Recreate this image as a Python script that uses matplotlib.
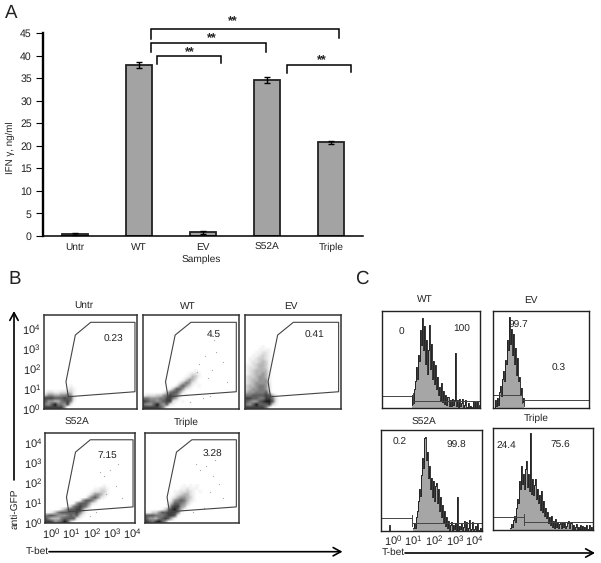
import numpy as np
import matplotlib
matplotlib.use('Agg')
import matplotlib.pyplot as plt

plt.rcParams['font.family'] = ['Liberation Sans', 'DejaVu Sans']
plt.rcParams['mathtext.fontset'] = 'custom'
plt.rcParams['mathtext.rm'] = 'Liberation Sans'
plt.rcParams['mathtext.default'] = 'regular'
plt.rcParams['text.hinting'] = 'no_hinting'

W, H = 601, 563

# panel A
samples = ['Untr', 'WT', 'EV', 'S52A', 'Triple']
ifn_values = [0.5, 37.9, 0.8, 34.6, 20.8]
ifn_errors = [0.2, 0.65, 0.3, 0.65, 0.3]
ifn_ticks = [0, 5, 10, 15, 20, 25, 30, 35, 40, 45]

# panel B, dot density, top row first, 0 white to 9 black
untr_density = [
    "00000000100",
    "00000001210",
    "12211223310",
    "35544556510",
    "88877787720",
    "75544678610",
    "65796658200",
    "88888850000",
]
wt_density = [
    "0000000000000000100",
    "0000000000000012210",
    "0000000000000124310",
    "0000000000001354200",
    "0000000000024652100",
    "0000000000257531010",
    "0000000014775210000",
    "0000001367752000000",
    "1222335687630100000",
    "6655566886410000000",
    "8766567882101000000",
    "6557965721000000000",
    "8888875100000000000",
]
ev_density = [
    "00000100000",
    "00001111000",
    "00011221000",
    "00112321000",
    "01123321000",
    "01223431000",
    "11234431000",
    "12234431000",
    "12344441000",
    "12344541000",
    "23345541000",
    "23445551000",
    "23455552000",
    "34456652000",
    "34556652000",
    "45566673000",
    "66777787410",
    "88776688620",
    "76557899720",
    "65797778310",
    "88888862000",
]
s52a_density = [
    "0000000000000000000100",
    "0000000000000000112210",
    "0000000000000001223310",
    "0000000000000013554210",
    "0000000000000146752100",
    "0000000000015776410000",
    "0000000001577752100000",
    "0000000136787630000000",
    "0000024677885100000000",
    "1124677777863100000000",
    "6776555676731000000000",
    "7544467777210000000000",
    "8875679731000000000000",
]
triple_density = [
    "00000000000010101000",
    "00000000000112111000",
    "00000000011223210100",
    "00000000012344210000",
    "00000000124554310000",
    "00000000256764210000",
    "00000001477653100000",
    "00000002788541000000",
    "00000136897410000000",
    "11335778886100000000",
    "77766678871000000000",
    "75546787410000000000",
    "87689751000000000000",
]
# faint single events outside the dense part, in decades
wt_dots_x = [2.3, 2.6, 2.9, 3.1, 2.7, 3.4, 2.2, 3.0, 2.5, 3.6, 1.9, 2.8]
wt_dots_y = [2.2, 2.6, 1.9, 2.8, 1.5, 2.3, 1.8, 3.4, 0.5, 1.3, 0.3, 0.6]
s52a_dots_x = [2.6, 2.9, 3.2, 2.4, 3.0, 2.7, 3.5, 2.2, 1.9, 3.3]
s52a_dots_y = [2.3, 2.6, 1.8, 2.5, 3.3, 1.4, 1.2, 0.5, 0.3, 2.9]
triple_dots_x = [2.3, 2.6, 2.9, 3.2, 2.1, 2.8, 3.4, 2.5, 2.0, 3.0]
triple_dots_y = [2.6, 2.8, 2.3, 1.9, 2.9, 1.5, 1.2, 0.7, 0.5, 3.1]
decade_ticks = [0, 1, 2, 3, 4]
gate_x = [0.263, 0.238, 0.338, 0.502, 0.975, 0.975, 0.263]
gate_y = [0.128, 0.288, 0.786, 0.922, 0.922, 0.181, 0.128]

# panel C, counts in % of the panel height, one value per channel
wt_start = 412
wt_counts = [3, 14, 5, 20, 28, 42, 30, 55, 48, 80, 65, 93, 60, 84, 45, 70, 35, 60, 85, 40,
             66, 30, 48, 25, 44, 20, 32, 14, 22, 8, 26, 6, 18, 4, 14, 3, 12, 2, 9, 2,
             10, 3, 8, 57, 2, 8, 0, 10, 2, 5, 10, 0, 3, 9, 0, 1, 5, 0, 2, 1,
             0, 7, 0, 6, 0, 7, 0, 3]
ev_start = 494
ev_counts = [0, 8, 2, 10, 3, 16, 22, 12, 30, 38, 28, 50, 45, 70, 60, 94, 66, 82, 55, 76,
             45, 62, 34, 52, 28, 32, 14, 20, 6, 10, 2]
s52a_start = 413
s52a_counts = [3, 8, 3, 14, 20, 30, 42, 35, 55, 72, 62, 92, 93, 70, 78, 52, 64, 42, 52, 34,
               50, 30, 45, 48, 28, 42, 20, 34, 14, 26, 8, 20, 5, 14, 3, 10, 1, 6, 9, 1,
               6, 2, 8, 1, 34, 1, 5, 2, 8, 0, 4, 10, 1, 9, 0, 3, 11, 0, 2, 9,
               0, 2, 5, 1, 7, 0, 1, 3, 0]
s52a_low_channels = [388, 389, 390]
s52a_low_counts = [0, 6, 0]
triple_start = 510
triple_counts = [2, 6, 3, 10, 14, 8, 22, 30, 26, 48, 40, 63, 45, 55, 40, 60, 68, 42, 55, 38,
                 95, 35, 50, 34, 44, 50, 30, 40, 26, 34, 20, 38, 18, 28, 14, 22, 12, 18, 7, 13,
                 5, 14, 3, 9, 2, 11, 3, 8, 2, 6, 7, 2, 8, 3, 7, 2, 4, 7, 9, 2,
                 7, 8, 1, 5, 1, 3, 6, 0, 3, 1, 5, 0, 4, 0, 3, 0, 5, 0, 1, 5,
                 0, 3, 0]
channel_ticks = [393, 413, 434, 455, 474]


def px_axes(fig, left, top, right, bottom):
    return fig.add_axes([left / W, 1 - bottom / H, (right - left) / W, (bottom - top) / H])


def decade_labels(values):
    return ['$10^{%d}$' % v for v in values]


def dot_panel(fig, rect, density, ylim, dots=None, show_x=False, show_y=False):
    ax = px_axes(fig, *rect)
    grid = np.array([[int(c) for c in row] for row in density])
    x0, y0 = -0.29, ylim[0]
    ax.imshow(grid, cmap='Greys', vmin=0, vmax=10, aspect='auto', interpolation='bilinear',
              extent=(x0, x0 + grid.shape[1] * 0.147, y0, y0 + grid.shape[0] * 0.15))
    if dots:
        ax.plot(dots[0], dots[1], ls='', marker='s', ms=0.8, mew=0, color='#aaaaaa')
    ax.plot(gate_x, gate_y, color='#444444', lw=0.8, transform=ax.transAxes)
    ax.set_xlim(x0, 4.13)
    ax.set_ylim(ylim)
    ax.set_xticks(decade_ticks if show_x else [])
    ax.set_yticks(decade_ticks if show_y else [])
    if show_x:
        ax.set_xticklabels(decade_labels(decade_ticks))
    if show_y:
        ax.set_yticklabels(decade_labels(decade_ticks))
    ax.tick_params(length=0, labelsize=8, pad=2, colors='#222222')
    for s in ax.spines.values():
        s.set_linewidth(1.1)
        s.set_color('#333333')
    return ax


def hist_panel(fig, rect, start, counts, split, left_y, right_y, show_x=False):
    ax = px_axes(fig, *rect)
    channels = start + np.arange(len(counts))
    ax.fill_between(channels, counts, step='mid', color='#a6a6a6', lw=0)
    ax.step(channels, counts, where='mid', color='black', lw=0.55)
    ax.set_xlim(rect[0], rect[2])
    ax.set_ylim(0, 100)
    # marker bars for the two gates
    tr = ax.transAxes
    ax.plot([0, split], [left_y, left_y], color='#444444', lw=0.7, transform=tr)
    ax.plot([split, 1], [right_y, right_y], color='#444444', lw=0.7, transform=tr)
    ax.plot([split, split], [left_y - 0.03, left_y + 0.03], color='#444444', lw=0.7, transform=tr)
    ax.plot([split, split], [right_y - 0.03, right_y + 0.03], color='#444444', lw=0.7, transform=tr)
    ax.set_yticks([])
    if show_x:
        ax.set_xticks(channel_ticks)
        ax.set_xticklabels(decade_labels(decade_ticks))
    else:
        ax.set_xticks([])
    ax.tick_params(length=0, labelsize=8, pad=2, colors='#222222')
    for s in ax.spines.values():
        s.set_linewidth(1.0)
        s.set_color('#222222')
    return ax


fig = plt.figure(figsize=(W / 100, H / 100), dpi=100)

# A
ax = px_axes(fig, 43, 33, 363, 236)
ax.bar(range(len(samples)), ifn_values, width=0.406, color='#a3a3a3', edgecolor='#222222', lw=1.3,
       yerr=ifn_errors, error_kw=dict(ecolor='black', elinewidth=1.0, capsize=2.2, capthick=1.0))
ax.set_xlim(-0.5, 4.5)
ax.set_ylim(0, 45)
ax.set_yticks(ifn_ticks)
ax.set_xticks(range(len(samples)))
ax.set_xticklabels(samples)
ax.tick_params(axis='x', length=0, labelsize=7.3, pad=5, colors='#222222')
ax.tick_params(axis='y', length=5, width=0.8, labelsize=7.6, pad=3, labelcolor='#222222')
ax.spines['top'].set_visible(False)
ax.spines['right'].set_visible(False)
ax.spines['left'].set_linewidth(1.7)
ax.spines['bottom'].set_linewidth(1.1)

# B
dot_panel(fig, (43.7, 315, 137.3, 408.7), untr_density, (-0.03, 4.65), show_y=True)
dot_panel(fig, (142.7, 315, 238.7, 408.7), wt_density, (-0.03, 4.65), dots=(wt_dots_x, wt_dots_y))
dot_panel(fig, (245.3, 315, 341, 408.7), ev_density, (-0.03, 4.65))
dot_panel(fig, (45, 432.7, 135.3, 523.3), s52a_density, (-0.08, 4.45),
          dots=(s52a_dots_x, s52a_dots_y), show_x=True, show_y=True)
dot_panel(fig, (144.7, 432.7, 238.7, 523.3), triple_density, (-0.08, 4.45),
          dots=(triple_dots_x, triple_dots_y))

# C
hist_panel(fig, (382.3, 310.7, 480, 408.3), wt_start, wt_counts, 0.317, 0.126, 0.075)
hist_panel(fig, (493, 311.3, 589, 407.7), ev_start, ev_counts, 0.306, 0.131, 0.076)
ax_c = hist_panel(fig, (381.3, 430.3, 482, 530.7), s52a_start, s52a_counts, 0.308, 0.123, 0.076, show_x=True)
ax_c.step(s52a_low_channels, s52a_low_counts, where='mid', color='black', lw=0.55)
hist_panel(fig, (493, 428, 592.7, 530), triple_start, triple_counts, 0.314, 0.127, 0.078)

# overlay in pixels for letters, brackets, arrows
ov = fig.add_axes([0, 0, 1, 1], facecolor='none')
ov.set_xlim(0, W)
ov.set_ylim(H, 0)
ov.axis('off')


def label(x, y, s, size=7.3, **kw):
    ov.text(x, y, s, fontsize=size, ha='center', va='center', color='#222222', **kw)


for x, y, s in [(11, 13, 'A'), (14.5, 279, 'B'), (362, 279, 'C')]:
    label(x, y, s, size=13.5)

label(10, 148, 'IFN γ, ng/ml', size=7)
ov.texts[-1].set_rotation(90)
label(201.5, 259, 'Samples')

brackets = [(151, 339, 29, 38.5, 37.5), (150.5, 265.5, 42.5, 52, 52),
            (156.5, 220.5, 55.5, 63.5, 62.5), (286.5, 350.5, 64.5, 73, 72)]
for x1, x2, top, y1, y2 in brackets:
    ov.plot([x1, x1, x2, x2], [y1, top, top, y2], color='black', lw=1.1, solid_joinstyle='miter')
for x, y in [(232.5, 22), (212, 39), (190, 52.5), (321.5, 61)]:
    label(x, y, '**', size=9, fontweight='bold')

for x, y, s in [(83.7, 305, 'Untr'), (187.7, 306, 'WT'), (290.7, 306, 'EV'),
                (77, 422.3, 'S52A'), (186, 422.7, 'Triple'),
                (113.7, 339.3, '0.23'), (213.3, 334, '4.5'), (314.7, 335, '0.41'),
                (107, 455.3, '7.15'), (212.3, 454.7, '3.28'),
                (425.3, 299, 'WT'), (531, 300, 'EV'), (424, 422.7, 'S52A'), (536.7, 418, 'Triple'),
                (401.7, 332.3, '0'), (461.7, 329.7, '100'), (518.7, 325.7, '99.7'),
                (558.3, 368.7, '0.3'), (400, 442.7, '0.2'), (456, 445.3, '99.8'),
                (506, 445.7, '24.4'), (560.7, 445, '75.6'),
                (37.7, 551.7, 'T-bet'), (393, 552.7, 'T-bet')]:
    label(x, y, s)
label(15, 509, 'anti-GFP', rotation=90)

arrow = dict(arrowstyle='->,head_length=0.55,head_width=0.3', color='black', lw=1.2,
             shrinkA=0, shrinkB=0)
ov.annotate('', xy=(14, 311), xytext=(14, 480), arrowprops=arrow)
ov.annotate('', xy=(342.5, 551.7), xytext=(49, 551.7), arrowprops=arrow)
ov.annotate('', xy=(595, 553), xytext=(405, 553), arrowprops=arrow)

fig.savefig('out.png', dpi=100)
